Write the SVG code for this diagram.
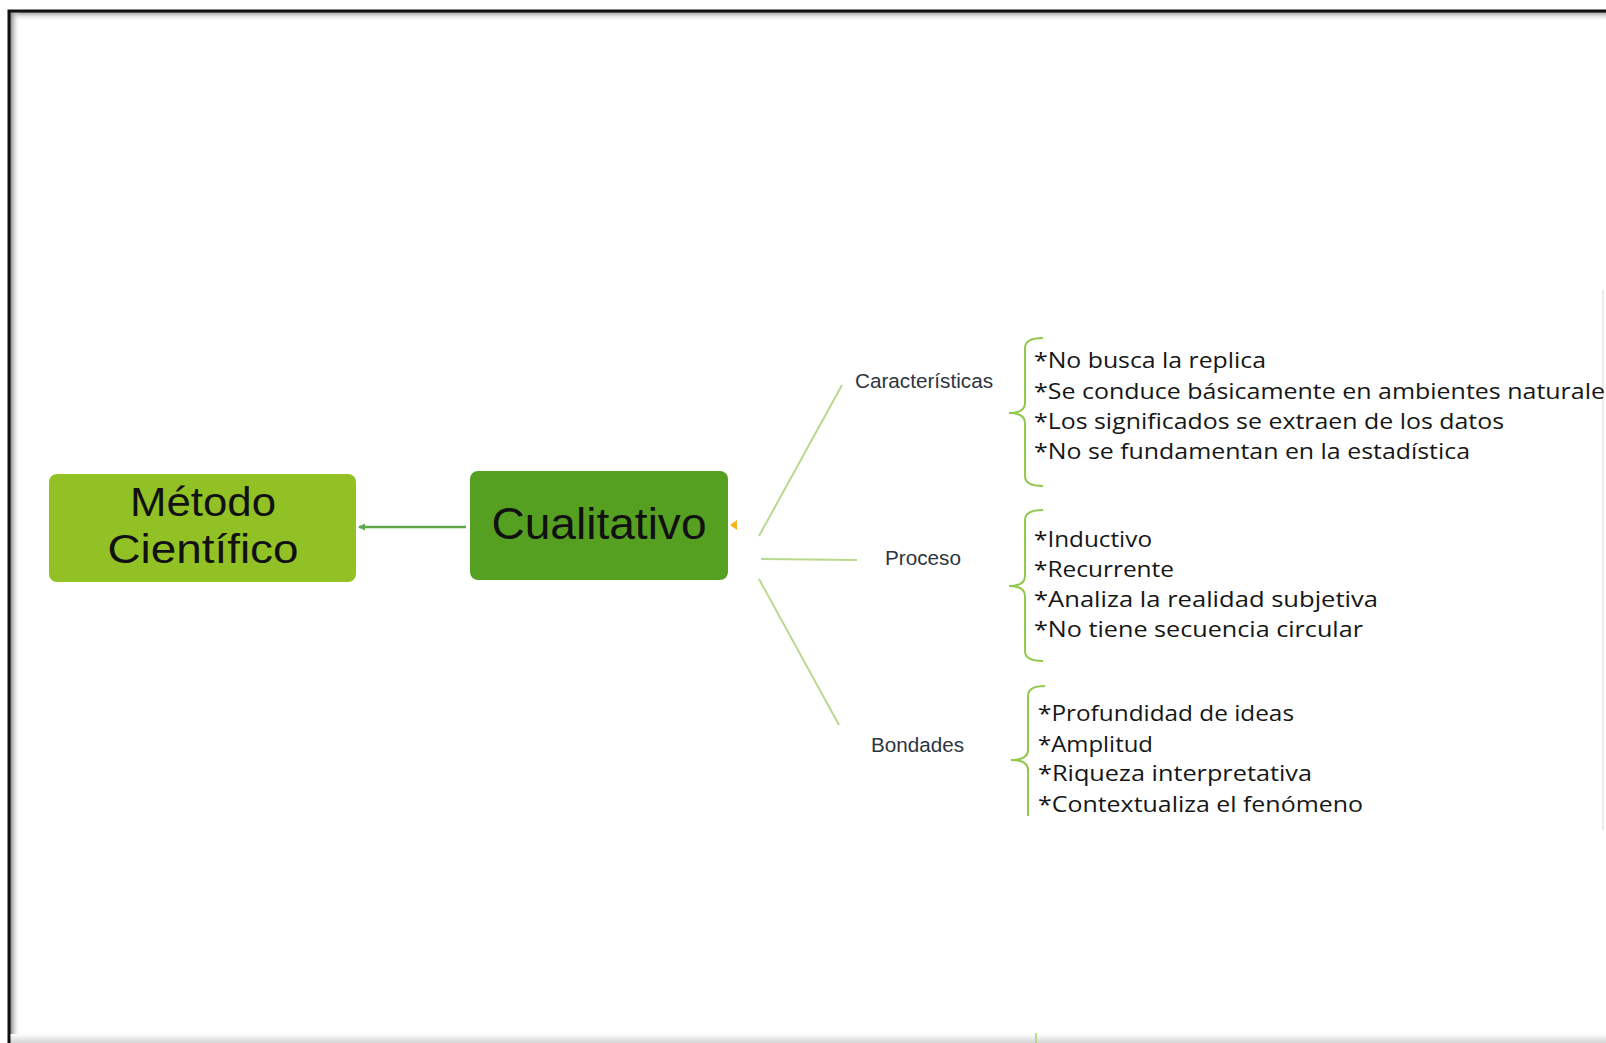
<svg xmlns="http://www.w3.org/2000/svg" width="1606" height="1043" viewBox="0 0 1606 1043">
<defs>
<linearGradient id="shTop" x1="0" y1="0" x2="0" y2="1"><stop offset="0" stop-color="#7a7a7a"/><stop offset="1" stop-color="#ffffff" stop-opacity="0"/></linearGradient>
<linearGradient id="shLeft" x1="0" y1="0" x2="1" y2="0"><stop offset="0" stop-color="#7a7a7a"/><stop offset="1" stop-color="#ffffff" stop-opacity="0"/></linearGradient>
<linearGradient id="shBot" x1="0" y1="0" x2="0" y2="1"><stop offset="0" stop-color="#ffffff"/><stop offset="1" stop-color="#d4d4d4"/></linearGradient>
<marker id="arr" markerWidth="8" markerHeight="8" refX="6" refY="4" orient="auto" markerUnits="userSpaceOnUse"><path d="M7,4 L0,0.5 L0,7.5 Z" fill="#5fa84a"/></marker>
<style>
.node-text{font-family:"Liberation Sans",Arial,sans-serif;fill:#111;}
.label{font-family:"Liberation Sans",Arial,sans-serif;font-size:20.5px;fill:#2d3540;}
.item{font-family:"Open Sans","Noto Sans",sans-serif;font-size:22px;fill:#161616;}
.branch{stroke:#b9d98c;stroke-width:2;fill:none;}
.brace{stroke:#93c84e;stroke-width:2;fill:none;}
</style>
</defs>
<rect x="0" y="0" width="1606" height="1043" fill="#ffffff"/>
<rect x="9" y="11" width="1597" height="10" fill="url(#shTop)"/>
<rect x="10" y="11" width="10" height="1032" fill="url(#shLeft)"/>
<rect x="8" y="1034" width="1598" height="9" fill="url(#shBot)"/>
<path d="M9,1043 L9,11 L1606,11" fill="none" stroke="#111" stroke-width="3"/>
<line x1="1603" y1="290" x2="1603" y2="830" stroke="#ececec" stroke-width="2"/>
<line x1="1036" y1="1033" x2="1036" y2="1043" stroke="#a8cf6a" stroke-width="1.5"/>

<g id="connectors">
<line x1="466" y1="527" x2="359" y2="527" stroke="#5fa84a" stroke-width="2.5" marker-end="url(#arr)"/>
<path d="M737,520 L730,525 L737,530 Z" fill="#f2b51a"/>
<line class="branch" x1="759" y1="536" x2="842" y2="385"/>
<line class="branch" x1="761" y1="559" x2="857" y2="560"/>
<line class="branch" x1="759" y1="579" x2="839" y2="725"/>
<path class="brace" d="M1043,338 Q1025,338 1025,348 L1025,403 Q1025,413 1009,413 Q1025,413 1025,423 L1025,476 Q1025,486 1043,486"/>
<path class="brace" d="M1043,510 Q1025,510 1025,520 L1025,576 Q1025,586 1009,586 Q1025,586 1025,596 L1025,651 Q1025,661 1043,661"/>
<path class="brace" d="M1045,686 Q1028,686 1028,696 L1028,750 Q1028,760 1011,760 Q1028,760 1028,770 L1028,816"/>
</g>

<g id="node-metodo">
<rect x="49" y="474" width="307" height="108" rx="8" fill="#92c125"/>
<text class="node-text" x="203" y="516" font-size="41" text-anchor="middle" textLength="146" lengthAdjust="spacingAndGlyphs">Método</text>
<text class="node-text" x="203" y="563" font-size="41" text-anchor="middle" textLength="191" lengthAdjust="spacingAndGlyphs">Científico</text>
</g>

<g id="node-cualitativo">
<rect x="470" y="471" width="258" height="109" rx="8" fill="#56a021"/>
<text class="node-text" x="599" y="539" font-size="44" text-anchor="middle" textLength="215" lengthAdjust="spacingAndGlyphs">Cualitativo</text>
</g>

<g id="node-caracteristicas">
<text class="label" x="855" y="388" textLength="138" lengthAdjust="spacingAndGlyphs">Características</text>
</g>
<g id="node-proceso">
<text class="label" x="885" y="565" textLength="76" lengthAdjust="spacingAndGlyphs">Proceso</text>
</g>
<g id="node-bondades">
<text class="label" x="871" y="752" textLength="93" lengthAdjust="spacingAndGlyphs">Bondades</text>
</g>

<g id="list-caracteristicas">
<text class="item" x="1034" y="368" textLength="232" lengthAdjust="spacingAndGlyphs">*No busca la replica</text>
<text class="item" x="1034" y="399" textLength="571" lengthAdjust="spacingAndGlyphs">*Se conduce básicamente en ambientes naturale</text>
<text class="item" x="1034" y="429" textLength="470" lengthAdjust="spacingAndGlyphs">*Los significados se extraen de los datos</text>
<text class="item" x="1034" y="459" textLength="436" lengthAdjust="spacingAndGlyphs">*No se fundamentan en la estadística</text>
</g>
<g id="list-proceso">
<text class="item" x="1034" y="547" textLength="118" lengthAdjust="spacingAndGlyphs">*Inductivo</text>
<text class="item" x="1034" y="577" textLength="140" lengthAdjust="spacingAndGlyphs">*Recurrente</text>
<text class="item" x="1034" y="607" textLength="344" lengthAdjust="spacingAndGlyphs">*Analiza la realidad subjetiva</text>
<text class="item" x="1034" y="637" textLength="329" lengthAdjust="spacingAndGlyphs">*No tiene secuencia circular</text>
</g>
<g id="list-bondades">
<text class="item" x="1038" y="721" textLength="256" lengthAdjust="spacingAndGlyphs">*Profundidad de ideas</text>
<text class="item" x="1038" y="752" textLength="115" lengthAdjust="spacingAndGlyphs">*Amplitud</text>
<text class="item" x="1038" y="781" textLength="274" lengthAdjust="spacingAndGlyphs">*Riqueza interpretativa</text>
<text class="item" x="1038" y="812" textLength="325" lengthAdjust="spacingAndGlyphs">*Contextualiza el fenómeno</text>
</g>
</svg>
